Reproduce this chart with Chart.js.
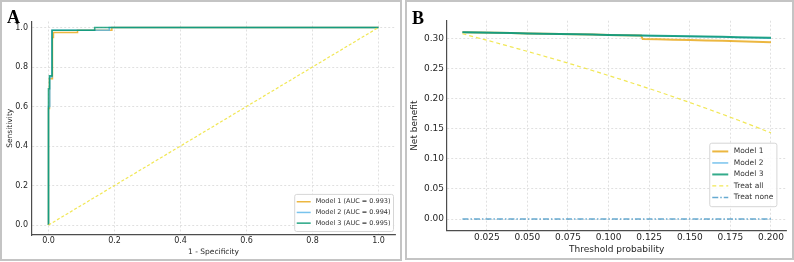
<!DOCTYPE html>
<html>
<head>
<meta charset="utf-8">
<script src="https://cdn.jsdelivr.net/npm/chart.js@4.4.1/dist/chart.umd.min.js"></script>
<style>
  body { margin:0; background:#fff; width:794px; height:262px; position:relative; overflow:hidden; }
  .panel { position:absolute; box-sizing:border-box; border:2px solid #c4c4c4; }
  .tag { position:absolute; font-family:"Liberation Serif", serif; font-weight:bold; font-size:18px; color:#000; line-height:1; }
  canvas { position:absolute; top:0; }
</style>
</head>
<body>
<div class="panel" style="left:0;top:0;width:402px;height:261px"></div>
<div class="panel" style="left:405px;top:0;width:389px;height:260px"></div>
<canvas id="rocChart" width="400" height="262" style="left:0;width:400px;height:262px"></canvas>
<canvas id="dcaChart" width="389" height="262" style="left:405px;width:389px;height:262px"></canvas>
<div class="tag" style="left:7px;top:8px">A</div>
<div class="tag" style="left:412px;top:9px">B</div>
<script>
// ---- panel A: ROC curves ----
var rocTicks=[0.0,0.2,0.4,0.6,0.8,1.0];
var rocLabels=["Model 1 (AUC = 0.993)","Model 2 (AUC = 0.994)","Model 3 (AUC = 0.995)"];
var fpr1=[0,0,0.003,0.003,0.012,0.012,0.015,0.015,0.088,0.088,0.192,0.192,1.0];
var tpr1=[0,0.59,0.59,0.74,0.74,0.95,0.95,0.975,0.975,0.986,0.986,1.0,1.0];
var fpr2=[0,0,0.004,0.004,0.010,0.010,0.184,0.184,1.0];
var tpr2=[0,0.60,0.60,0.75,0.75,0.986,0.986,1.0,1.0];
var fpr3=[0,0,0.003,0.003,0.011,0.011,0.140,0.140,1.0];
var tpr3=[0,0.69,0.69,0.755,0.755,0.986,0.986,1.0,1.0];
var chanceX=[0,1];
var chanceY=[0,1];

// ---- panel B: decision curves ----
var dcaXTicks=[0.025,0.050,0.075,0.100,0.125,0.150,0.175,0.200];
var dcaYTicks=[0.00,0.05,0.10,0.15,0.20,0.25,0.30];
var thresholds=[0.01,0.02,0.03,0.04,0.05,0.06,0.07,0.08,0.09,0.10,0.11,0.12,0.13,0.14,0.15,0.16,0.17,0.18,0.19,0.20];
var thresholds1=[0.01,0.02,0.03,0.04,0.05,0.06,0.07,0.08,0.09,0.10,0.11,0.12,0.121,0.13,0.14,0.15,0.16,0.17,0.18,0.19,0.20];
var model1NB=[0.3100,0.3096,0.3091,0.3086,0.3081,0.3076,0.3071,0.3066,0.3061,0.3056,0.3051,0.3046,0.2986,0.2982,0.2977,0.2971,0.2965,0.2958,0.2950,0.2942,0.2933];
var model2NB=[0.3100,0.3096,0.3091,0.3086,0.3081,0.3076,0.3071,0.3066,0.3061,0.3056,0.3051,0.3046,0.3040,0.3035,0.3030,0.3025,0.3020,0.3014,0.3008,0.3002];
var model3NB=[0.3100,0.3096,0.3091,0.3086,0.3081,0.3076,0.3071,0.3066,0.3061,0.3056,0.3051,0.3046,0.3041,0.3037,0.3033,0.3028,0.3024,0.3019,0.3013,0.3007];
var treatAllNB=[0.3075,0.3004,0.2932,0.2858,0.2783,0.2706,0.2628,0.2548,0.2466,0.2382,0.2297,0.2209,0.2120,0.2028,0.1934,0.1838,0.1740,0.1639,0.1536,0.1430];
var treatNoneNB=[0,0,0,0,0,0,0,0,0,0,0,0,0,0,0,0,0,0,0,0];

var ORANGE="rgba(230,159,0,0.75)", SKY="rgba(86,180,233,0.8)", GREEN="rgba(0,150,110,0.8)";
var YELLOW="rgba(240,228,66,0.9)", BLUE="rgba(0,114,178,0.6)";
var FONT='"DejaVu Sans", sans-serif';

function pts(xs,ys){ return xs.map(function(x,i){ return {x:x,y:ys[i]}; }); }

// legend drawn inside the plot area, matplotlib style
var insetLegend={
	id:"insetLegend",
	afterDatasetsDraw:function(chart,args,o){
		var ctx=chart.ctx, area=chart.chartArea;
		var sets=chart.data.datasets.filter(function(d){ return d.label; });
		ctx.save();
		ctx.font=o.size+"px "+FONT;
		var tw=0;
		sets.forEach(function(d){ tw=Math.max(tw,ctx.measureText(d.label).width); });
		var w=o.pad*2+o.sample+o.gap+tw, h=o.pad*2+sets.length*o.row;
		var x0=area.right-o.right-w, y0=area.bottom-o.bottom-h;
		ctx.fillStyle="rgba(255,255,255,0.85)";
		ctx.strokeStyle="#d6d6d6";
		ctx.lineWidth=1;
		ctx.beginPath();
		ctx.roundRect(x0+0.5,y0+0.5,w,h,2);
		ctx.fill(); ctx.stroke();
		sets.forEach(function(d,i){
			var cy=y0+o.pad+o.row*(i+0.5);
			ctx.beginPath();
			ctx.setLineDash(d.borderDash||[]);
			ctx.strokeStyle=d.borderColor;
			ctx.lineWidth=d.borderWidth;
			ctx.moveTo(x0+o.pad,cy);
			ctx.lineTo(x0+o.pad+o.sample,cy);
			ctx.stroke();
			ctx.setLineDash([]);
			ctx.fillStyle="#333";
			ctx.textBaseline="middle";
			ctx.fillText(d.label,x0+o.pad+o.sample+o.gap,cy);
		});
		ctx.restore();
	}
};

function axis(opt){
	return {
		type:"linear", min:opt.min, max:opt.max,
		afterBuildTicks:function(s){ s.ticks=opt.ticks.map(function(v){ return {value:v}; }); },
		afterFit:function(s){ if(opt.width) s.width=opt.width; if(opt.height) s.height=opt.height; },
		ticks:{ font:{family:FONT,size:opt.size}, color:"#262626", padding:opt.tickPad,
			callback:function(v){ return Number(v).toFixed(opt.dec); } },
		grid:{ color:"#d9d9d9", lineWidth:0.8, drawTicks:false },
		border:{ color:"#4d4d4d", width:1.2, dash:[2,2] },
		title:{ display:true, text:opt.title, color:"#262626", font:{family:FONT,size:opt.tsize},
			padding:{top:opt.titlePad,bottom:opt.titlePad} }
	};
}

// later datasets in the list end up on top (lower "order" draws last)
function line(label,data,color,width,dash,order){
	return { label:label, data:data, borderColor:color, borderWidth:width, borderDash:dash||[],
		pointRadius:0, fill:false, tension:0, order:order };
}

new Chart(document.getElementById("rocChart"),{
	type:"line",
	data:{ datasets:[
		line(rocLabels[0],pts(fpr1,tpr1),ORANGE,1.5,null,3),
		line(rocLabels[1],pts(fpr2,tpr2),SKY,1.5,null,2),
		line(rocLabels[2],pts(fpr3,tpr3),GREEN,1.6,null,1),
		line("",pts(chanceX,chanceY),YELLOW,1.2,[3,2],0)
	]},
	options:{
		responsive:false, animation:false, events:[],
		layout:{ padding:{left:0,top:21.5,right:5,bottom:0} },
		scales:{
			x:axis({min:-0.05,max:1.05,ticks:rocTicks,dec:1,size:8,tsize:7.5,tickPad:1,height:27,title:"1 - Specificity",titlePad:5.5}),
			y:axis({min:-0.0506,max:1.0304,ticks:rocTicks,dec:1,size:8,tsize:7.5,tickPad:4,width:32,title:"Sensitivity",titlePad:5.5})
		},
		plugins:{ legend:{display:false}, tooltip:{enabled:false},
			insetLegend:{size:6.5,row:10.7,pad:2.5,sample:14,gap:5,right:2,bottom:4} }
	},
	plugins:[insetLegend]
});

new Chart(document.getElementById("dcaChart"),{
	type:"line",
	data:{ datasets:[
		line("Model 1",pts(thresholds1,model1NB),ORANGE,2,null,4),
		line("Model 2",pts(thresholds,model2NB),SKY,1.5,null,3),
		line("Model 3",pts(thresholds,model3NB),GREEN,2,null,2),
		line("Treat all",pts(thresholds,treatAllNB),YELLOW,1.2,[4,3],1),
		line("Treat none",pts(thresholds,treatNoneNB),BLUE,1.6,[6,2,1.5,2],0)
	]},
	options:{
		responsive:false, animation:false, events:[],
		layout:{ padding:{left:0,top:20.7,right:7.6,bottom:0} },
		scales:{
			x:axis({min:0.0005,max:0.2095,ticks:dcaXTicks,dec:3,size:9,tsize:9,tickPad:1.5,height:31.3,title:"Threshold probability",titlePad:7}),
			y:axis({min:-0.0194,max:0.3292,ticks:dcaYTicks,dec:2,size:9,tsize:9,tickPad:3,width:42,title:"Net benefit",titlePad:4.2})
		},
		plugins:{ legend:{display:false}, tooltip:{enabled:false},
			insetLegend:{size:7.5,row:11.5,pad:3,sample:16,gap:5.5,right:10,bottom:24.5} }
	},
	plugins:[insetLegend]
});
</script>
</body>
</html>
